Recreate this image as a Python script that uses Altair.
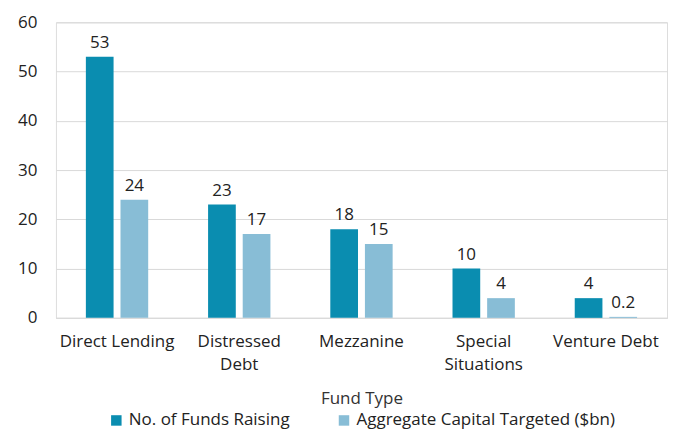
import altair as alt
import pandas as pd

categories = ["Direct Lending", "Distressed Debt", "Mezzanine", "Special Situations", "Venture Debt"]
wrapped = {"Distressed Debt": ["Distressed", "Debt"], "Special Situations": ["Special", "Situations"]}
series = ["No. of Funds Raising", "Aggregate Capital Targeted ($bn)"]
funds_raising = [53, 23, 18, 10, 4]
capital_targeted = [24, 17, 15, 4, 0.2]
label_text_funds = ["53", "23", "18", "10", "4"]
label_text_capital = ["24", "17", "15", "4", "0.2"]
colors = ["#0A8DB0", "#88BDD6"]
y_ticks = [0, 10, 20, 30, 40, 50, 60]

rows = []
for i, c in enumerate(categories):
    rows.append({"cat": c, "series": series[0], "value": funds_raising[i], "lbl": label_text_funds[i]})
    rows.append({"cat": c, "series": series[1], "value": capital_targeted[i], "lbl": label_text_capital[i]})
df = pd.DataFrame(rows)

expr = "datum.label"
for k, v in wrapped.items():
    expr = f"datum.label == '{k}' ? {v} : ({expr})"

FONT = "Open Sans"
FS = 17

x = alt.X("cat:N", sort=categories, title="Fund Type",
          scale=alt.Scale(paddingInner=0.49, paddingOuter=0.245),
          axis=alt.Axis(labelAngle=0, labelExpr=expr, labelFontSize=FS, labelColor="#222",
                        labelLineHeight=23, labelPadding=16, ticks=False, tickSize=0, labelLimit=0,
                        domainColor="#d9d9d9", titleFontSize=FS, titleFontWeight="normal",
                        titleColor="#333", titlePadding=18, labelFont=FONT, titleFont=FONT))
xo = alt.XOffset("series:N", sort=series, scale=alt.Scale(paddingInner=0.2, paddingOuter=0))
y = alt.Y("value:Q", title=None, scale=alt.Scale(domain=[0, 60]),
          axis=alt.Axis(values=y_ticks, labelFontSize=FS, labelColor="#222", labelPadding=19,
                        ticks=False, tickSize=0, domain=False, gridColor="#d9d9d9", labelFont=FONT))
color = alt.Color("series:N", sort=series, scale=alt.Scale(domain=series, range=colors),
                  legend=alt.Legend(title=None, orient="none", legendX=52, legendY=390,
                                    direction="horizontal",
                                    symbolType="square", symbolSize=110, symbolStrokeWidth=0,
                                    labelFontSize=FS, labelColor="#222", labelFont=FONT, labelLimit=0,
                                    columnPadding=45, labelOffset=4))

base = alt.Chart(df).encode(x=x, xOffset=xo, y=y)
bars = base.mark_bar().encode(color=color)
text = base.mark_text(baseline="bottom", dy=-5, fontSize=FS, color="#222", font=FONT).encode(text="lbl:N")

chart = alt.layer(bars, text).properties(width=612, height=296, padding={"left": 9, "top": 5, "right": 2, "bottom": 5}).configure_view(stroke=None).configure(font=FONT)
chart.save("out.html", embed_options={"renderer": "svg", "actions": False})
